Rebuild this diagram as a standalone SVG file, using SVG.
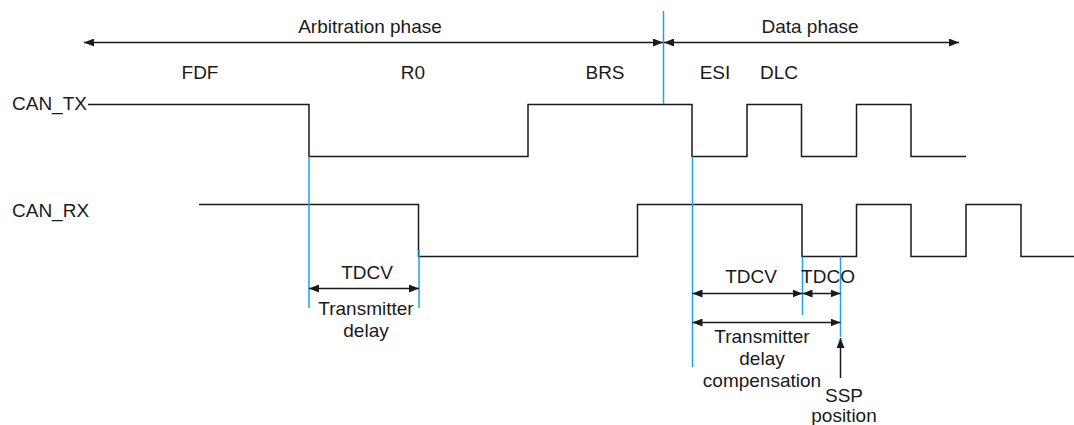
<svg xmlns="http://www.w3.org/2000/svg" width="1074" height="425" viewBox="0 0 1074 425">
<style>
text{font-family:"Liberation Sans",Arial,sans-serif;font-size:19px;fill:#1a1a1a}
.m{text-anchor:middle}
.sig{fill:none;stroke:#1a1a1a;stroke-width:1.5}
.blue{fill:none;stroke:#1AA3E8;stroke-width:1.5}
.arr{fill:none;stroke:#1a1a1a;stroke-width:1.5;marker-start:url(#ah);marker-end:url(#ah)}
.arr1{fill:none;stroke:#1a1a1a;stroke-width:1.5;marker-end:url(#ah)}
</style>
<defs>
<marker id="ah" markerUnits="userSpaceOnUse" markerWidth="10" markerHeight="8" refX="10" refY="4" orient="auto-start-reverse">
<path d="M0,0 L10,4 L0,8 z" fill="#1a1a1a"/>
</marker>
</defs>
<rect width="1074" height="425" fill="#fff"/>
<g id="labels">
<text class="m" x="370" y="33">Arbitration phase</text>
<text class="m" x="810" y="33">Data phase</text>
<text class="m" x="200" y="79">FDF</text>
<text class="m" x="413" y="79">R0</text>
<text class="m" x="605" y="79">BRS</text>
<text class="m" x="715" y="79">ESI</text>
<text class="m" x="779" y="79">DLC</text>
</g>
<g id="can_tx">
<text x="12" y="110">CAN_TX</text>
<path class="sig" d="M88,104.5 H309 V156.5 H528 V104.5 H692 V156.5 H747 V104.5 H801.5 V156.5 H856.5 V104.5 H911 V156.5 H966"/>
</g>
<g id="can_rx">
<text x="12" y="217">CAN_RX</text>
<path class="sig" d="M199,204.5 H418.5 V256.5 H637.5 V204.5 H802 V256.5 H856.5 V204.5 H911 V256.5 H966 V204.5 H1021 V256.5 H1074"/>
</g>
<g id="markers-blue">
<line class="blue" x1="663.5" y1="11" x2="663.5" y2="104"/>
<line class="blue" x1="309" y1="156.5" x2="309" y2="308"/>
<line class="blue" x1="419" y1="250" x2="419" y2="308"/>
<line class="blue" x1="692.5" y1="156.5" x2="692.5" y2="367"/>
<line class="blue" x1="802.5" y1="256.5" x2="802.5" y2="315"/>
<line class="blue" x1="840.5" y1="256.5" x2="840.5" y2="337"/>
</g>
<g id="connectors">
<line class="arr" x1="84" y1="42.5" x2="663" y2="42.5"/>
<line class="arr" x1="664" y1="42.5" x2="959" y2="42.5"/>
<line class="arr" x1="309" y1="288.5" x2="419" y2="288.5"/>
<line class="arr" x1="692.5" y1="293.5" x2="802.5" y2="293.5"/>
<line class="arr" x1="802.5" y1="293.5" x2="840.5" y2="293.5"/>
<line class="arr" x1="692.5" y1="322.5" x2="840.5" y2="322.5"/>
<line class="arr1" x1="840.5" y1="378" x2="840.5" y2="338"/>
</g>
<g id="annotations">
<text class="m" x="367" y="279">TDCV</text>
<text class="m" x="366" y="315">Transmitter</text>
<text class="m" x="366" y="337">delay</text>
<text class="m" x="751" y="283">TDCV</text>
<text class="m" x="828" y="283">TDCO</text>
<text class="m" x="762" y="343">Transmitter</text>
<text class="m" x="762" y="365">delay</text>
<text class="m" x="762" y="387">compensation</text>
<text class="m" x="844" y="402">SSP</text>
<text class="m" x="844" y="422">position</text>
</g>
</svg>
